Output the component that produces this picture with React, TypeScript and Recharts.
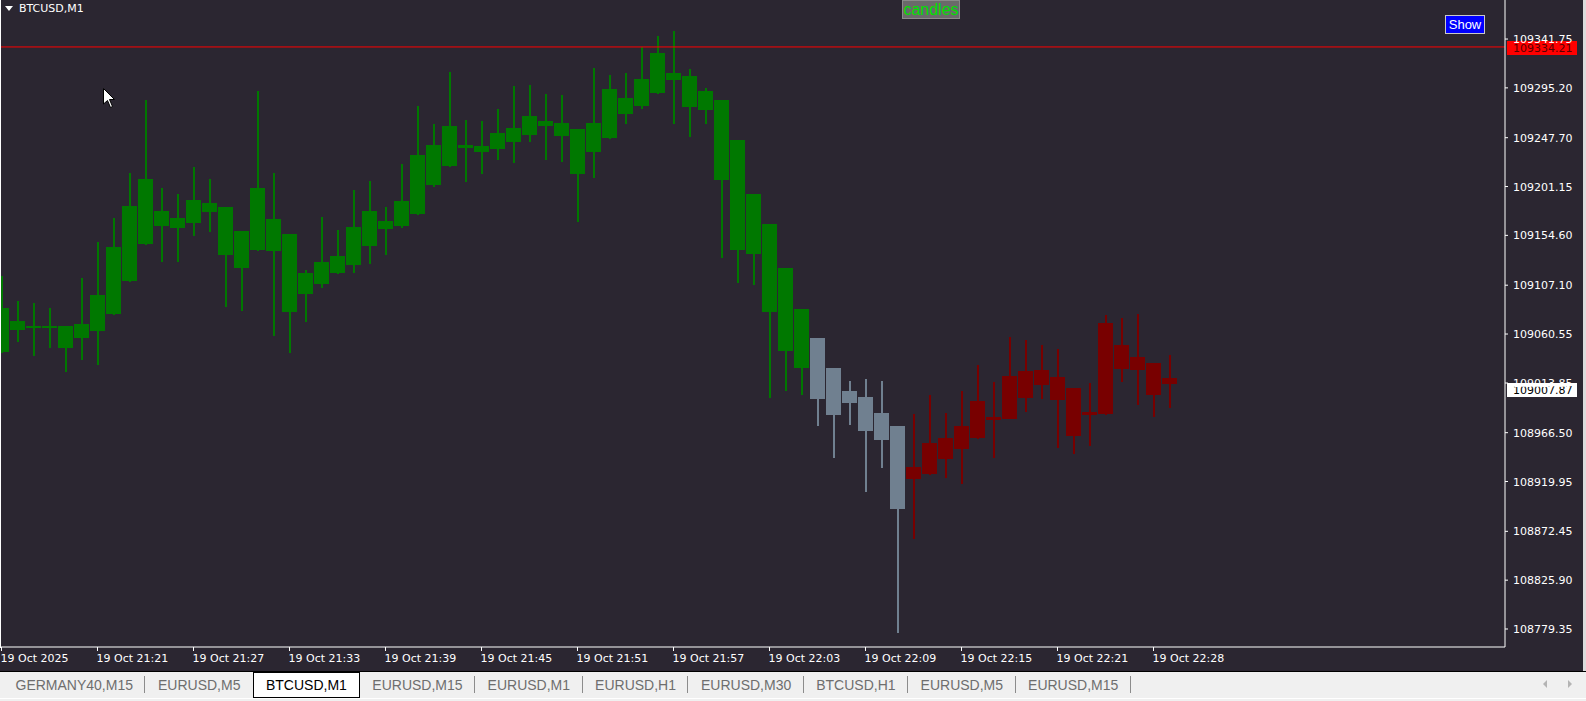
import React from "react";
import { ComposedChart, Bar, XAxis, YAxis, ReferenceLine } from "recharts";

// BTCUSD M1, 19 Oct 2025 21:15 .. 22:29 (one bar per minute)
const OPEN = [
  109043.4, 109073.0, 109068.2, 109068.2, 109068.2, 109056.8, 109063.4, 109079.6, 109111.1, 109208.3,
  109163.5, 109171.2, 109166.4, 109185.5, 109181.7, 109123.5, 109140.7, 109170.2, 109155.9, 109098.7,
  109108.2, 109134.9, 109126.4, 109177.8, 109160.7, 109163.5, 109175.0, 109240.8, 109220.7, 109240.8,
  109239.8, 109236.9, 109257.0, 109250.3, 109263.6, 109261.7, 109256.0, 109234.1, 109247.4, 109285.6,
  109277.9, 109290.3, 109309.4, 109306.5, 109274.1, 109283.7, 109245.5, 109194.0, 109165.4, 109123.5,
  109084.4, 109056.8, 109028.2, 108994.8, 109000.5, 108959.5, 108972.9, 108922.4, 108927.1, 108961.4,
  108951.0, 108961.4, 108981.5, 108979.6, 109025.3, 109012.0, 109019.6, 109009.1, 108983.4, 108984.3,
  109050.1, 109026.3, 109032.9, 109018.6,
];
const HIGH = [
  109115.9, 109092.0, 109090.1, 109085.4, 109068.2, 109114.0, 109148.3, 109171.2, 109214.1, 109283.7,
  109199.8, 109194.0, 109219.8, 109208.3, 109181.7, 109158.8, 109292.2, 109214.1, 109155.9, 109121.6,
  109172.1, 109159.7, 109197.9, 109206.4, 109181.7, 109222.6, 109277.9, 109260.8, 109310.3, 109264.6,
  109263.6, 109275.1, 109297.0, 109298.0, 109289.4, 109288.4, 109256.0, 109314.2, 109307.5, 109309.4,
  109334.2, 109344.7, 109349.4, 109313.2, 109295.1, 109283.7, 109245.5, 109194.0, 109165.4, 109123.5,
  109084.4, 109056.8, 109028.2, 109015.8, 109017.7, 109015.8, 108972.9, 108984.3, 109002.4, 108985.3,
  109006.2, 109031.0, 109014.8, 109057.7, 109054.9, 109050.1, 109046.3, 109009.1, 109013.9, 109078.7,
  109075.8, 109079.6, 109032.9, 109040.6,
];
const LOW = [
  109042.5, 109053.0, 109039.6, 109047.2, 109024.4, 109035.8, 109031.0, 109078.7, 109110.2, 109145.4,
  109129.2, 109129.2, 109154.0, 109157.8, 109086.3, 109082.5, 109139.7, 109058.7, 109042.5, 109072.0,
  109104.4, 109117.8, 109118.7, 109127.3, 109135.9, 109161.6, 109174.0, 109200.7, 109219.8, 109205.5,
  109213.1, 109226.5, 109223.6, 109243.6, 109226.5, 109224.6, 109167.4, 109209.3, 109246.5, 109260.8,
  109275.1, 109289.4, 109260.8, 109248.4, 109260.8, 109133.0, 109109.2, 109107.3, 108999.6, 109006.2,
  109002.4, 108972.9, 108942.4, 108973.8, 108910.0, 108932.8, 108775.5, 108865.2, 108926.2, 108923.3,
  108917.6, 108960.5, 108942.4, 108979.6, 108986.2, 108998.6, 108951.9, 108946.2, 108953.8, 108983.4,
  109014.8, 108992.9, 108981.5, 108990.0,
];
const CLOSE = [
  109085.4, 109064.4, 109068.2, 109068.2, 109047.2, 109070.1, 109097.8, 109143.5, 109182.6, 109146.4,
  109177.8, 109161.6, 109188.3, 109176.9, 109135.9, 109158.8, 109199.8, 109139.7, 109081.6, 109118.7,
  109129.2, 109118.7, 109162.6, 109144.5, 109168.3, 109187.4, 109231.2, 109202.6, 109258.9, 109237.9,
  109234.1, 109252.2, 109243.6, 109268.4, 109258.9, 109249.3, 109213.1, 109261.7, 109294.1, 109270.3,
  109303.7, 109328.5, 109302.7, 109277.0, 109292.2, 109207.4, 109140.7, 109136.8, 109081.6, 109044.4,
  109028.2, 108998.6, 108983.4, 109006.2, 108968.1, 108985.3, 108893.8, 108933.8, 108956.7, 108941.4,
  108972.9, 108996.7, 108978.6, 109020.5, 108999.6, 109026.3, 108997.7, 108963.3, 108986.2, 109071.1,
  109027.2, 109038.7, 109002.4, 109012.9,
];

// indicator colouring: bars up to LAST_GREEN green, up to LAST_GRAY gray, rest maroon
const LAST_GREEN = 50;
const LAST_GRAY = 56;

const TIME_TICKS = [0, 6, 12, 18, 24, 30, 36, 42, 48, 54, 60, 66, 72];
const TIME_LABELS = [
  "19 Oct 2025", "19 Oct 21:21", "19 Oct 21:27", "19 Oct 21:33", "19 Oct 21:39",
  "19 Oct 21:45", "19 Oct 21:51", "19 Oct 21:57", "19 Oct 22:03", "19 Oct 22:09",
  "19 Oct 22:15", "19 Oct 22:21", "19 Oct 22:28",
];
const PRICE_TICKS = [
  109341.75, 109295.2, 109247.7, 109201.15, 109154.6, 109107.1, 109060.55,
  109013.85, 108966.5, 108919.95, 108872.45, 108825.9, 108779.35,
];
const ASK_PRICE = 109334.21;
const BID_PRICE = 109007.87;

const TABS = [
  "GERMANY40,M15", "EURUSD,M5", "BTCUSD,M1", "EURUSD,M15", "EURUSD,M1",
  "EURUSD,H1", "EURUSD,M30", "BTCUSD,H1", "EURUSD,M5", "EURUSD,M15",
];
const ACTIVE_TAB = 2;

const BG = "#2b2631";
const GREEN = "#007800";
const GRAY = "#708090";
const MAROON = "#780000";
const AXIS_FONT = "'DejaVu Sans', sans-serif";

const candles = OPEN.map((open, i) => ({
  i,
  open,
  high: HIGH[i],
  low: LOW[i],
  close: CLOSE[i],
  range: [LOW[i], HIGH[i]],
}));

function candleColor(i: number) {
  if (i <= LAST_GREEN) return GREEN;
  if (i <= LAST_GRAY) return GRAY;
  return MAROON;
}

function CandleShape(props: any) {
  const { x, y, width, height, payload } = props;
  if (!payload || height == null) return null;
  const { open, high, low, close, i } = payload;
  const cx = x + width / 2;
  const top = Math.min(y, y + height);
  const full = Math.abs(height);
  const k = full / (high - low || 1);
  const bTop = Math.round(top + (high - Math.max(open, close)) * k);
  const bBot = Math.max(bTop + 2, Math.round(top + (high - Math.min(open, close)) * k));
  const color = candleColor(i);
  return (
    <g shapeRendering="crispEdges">
      <rect x={cx - 0.5} y={Math.round(top)} width={2} height={Math.max(1, Math.round(full))} fill={color} />
      <rect x={cx - 7.5} y={bTop} width={15} height={bBot - bTop} fill={color} />
    </g>
  );
}

function TimeTick(props: any) {
  const { x, y, payload, index } = props;
  const idx = TIME_TICKS.indexOf(payload.value);
  return (
    <text x={x - 1} y={y + 11} fill="#ffffff" fontSize={11} fontFamily={AXIS_FONT} textAnchor="start">
      {TIME_LABELS[idx >= 0 ? idx : index]}
    </text>
  );
}

function PriceTick(props: any) {
  const { x, y, payload } = props;
  return (
    <text x={x} y={y + 4} fill="#ffffff" fontSize={11} fontFamily={AXIS_FONT} textAnchor="start">
      {Number(payload.value).toFixed(2)}
    </text>
  );
}

function priceTag(value: number, bg: string, fg: string) {
  return (p: any) => {
    const vb = p.viewBox || {};
    const x = vb.x + vb.width + 2;
    const y = Math.round(vb.y);
    return (
      <g>
        <rect x={x} y={y - 6} width={70} height={14} fill={bg} shapeRendering="crispEdges" />
        <text x={x + 6} y={y + 5} fill={fg} fontSize={11} fontFamily={AXIS_FONT}>
          {value.toFixed(2)}
        </text>
      </g>
    );
  };
}

export default function App() {
  return (
    <div style={{ position: "relative", width: 1586, height: 701, background: "#f0f0f0", overflow: "hidden" }}>
      <style>{`body{margin:0}`}</style>
      <div style={{ position: "absolute", left: 0, top: 0, width: 1586, height: 671, background: BG }}>
        <ComposedChart width={1586} height={671} data={candles} margin={{ top: 0, right: 0, bottom: 0, left: 0 }}>
          <XAxis
            dataKey="i"
            type="number"
            domain={[-0.09375, 93.96875]}
            allowDataOverflow
            ticks={TIME_TICKS}
            interval={0}
            height={24}
            axisLine={{ stroke: "#ffffff" }}
            tickLine={{ stroke: "#ffffff" }}
            tickSize={4}
            tickMargin={0}
            tick={(p: any) => <TimeTick {...p} />}
          />
          <YAxis
            orientation="right"
            type="number"
            domain={[108762.19, 109378.97]}
            allowDataOverflow
            ticks={PRICE_TICKS}
            interval={0}
            width={81}
            axisLine={{ stroke: "#ffffff" }}
            tickLine={{ stroke: "#ffffff" }}
            tickSize={3}
            tickMargin={5}
            tick={(p: any) => <PriceTick {...p} />}
          />
          <Bar dataKey="range" shape={(p: any) => <CandleShape {...p} />} isAnimationActive={false} />
          <ReferenceLine y={ASK_PRICE} stroke="#ff0000" strokeWidth={1} label={priceTag(ASK_PRICE, "#ff0000", "#5a0000")} />
          <ReferenceLine y={BID_PRICE} stroke="none" label={priceTag(BID_PRICE, "#ffffff", "#000000")} />
        </ComposedChart>
      </div>

      {/* chart frame, left edge and window edge */}
      <div style={{ position: "absolute", left: 0, top: 0, width: 1, height: 648, background: "#ffffff" }} />
      <div style={{ position: "absolute", left: 1583, top: 0, width: 3, height: 671, background: "#dcdcdc" }} />

      {/* symbol title */}
      <div style={{ position: "absolute", left: 5, top: 6, width: 0, height: 0, borderLeft: "4px solid transparent", borderRight: "4px solid transparent", borderTop: "5px solid #ffffff" }} />
      <div style={{ position: "absolute", left: 19, top: 1, color: "#ffffff", fontFamily: AXIS_FONT, fontSize: 11, lineHeight: "16px" }}>BTCUSD,M1</div>

      {/* indicator label */}
      <div style={{ position: "absolute", left: 902, top: 0, width: 56, height: 17, background: "#6a6a6a", border: "1px solid #8a8a8a", color: "#00e000", fontFamily: "'Liberation Sans', Arial, sans-serif", fontSize: 16, lineHeight: "17px", textAlign: "center" }}>candles</div>

      {/* Show button */}
      <div style={{ position: "absolute", left: 1445, top: 15, width: 38, height: 17, background: "#0000ff", border: "1px solid #c8c8c8", color: "#ffffff", fontFamily: "'Liberation Sans', Arial, sans-serif", fontSize: 13, lineHeight: "17px", textAlign: "center" }}>Show</div>

      {/* mouse pointer */}
      <svg style={{ position: "absolute", left: 103, top: 88 }} width={14} height={22}>
        <path d="M0.5,0.5 L0.5,16 L4.5,12.5 L7.5,19.5 L9.5,18.5 L6.5,11.5 L11.5,11.5 Z" fill="#ffffff" stroke="#000000" strokeWidth={1} />
      </svg>

      {/* tab bar */}
      <div style={{ position: "absolute", left: 0, top: 671, width: 1586, height: 1, background: "#000000" }} />
      <div style={{ position: "absolute", left: 3, top: 672, height: 26, display: "flex", alignItems: "stretch", fontFamily: "'Liberation Sans', Arial, sans-serif", fontSize: 14 }}>
        {TABS.map((t, k) => {
          const active = k === ACTIVE_TAB;
          const nextActive = k + 1 === ACTIVE_TAB;
          return (
            <div
              key={k}
              style={{
                padding: active ? "0 12px" : "0 12.5px",
                display: "flex",
                alignItems: "center",
                color: active ? "#000000" : "#6e6e6e",
                background: active ? "#ffffff" : "transparent",
                border: active ? "1px solid #000000" : "none",
                boxSizing: "border-box",
                position: "relative",
              }}
            >
              {t}
              {!active && !nextActive && (
                <span style={{ position: "absolute", right: 0, top: 4, width: 1, height: 17, background: "#8c8c8c" }} />
              )}
            </div>
          );
        })}
      </div>
      <div style={{ position: "absolute", left: 1543, top: 680, width: 0, height: 0, borderTop: "4px solid transparent", borderBottom: "4px solid transparent", borderRight: "4px solid #b4b4b4" }} />
      <div style={{ position: "absolute", left: 1568, top: 680, width: 0, height: 0, borderTop: "4px solid transparent", borderBottom: "4px solid transparent", borderLeft: "4px solid #b4b4b4" }} />
      <div style={{ position: "absolute", left: 0, top: 698, width: 1586, height: 1, background: "#ffffff" }} />
    </div>
  );
}
